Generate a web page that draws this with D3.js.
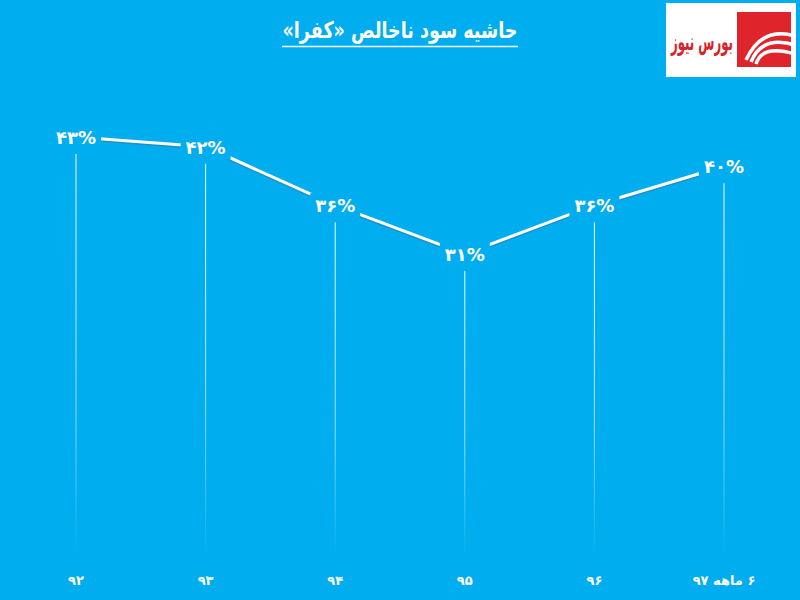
<!DOCTYPE html>
<html><head><meta charset="utf-8">
<script src="https://cdn.jsdelivr.net/npm/d3@7"></script>
<style>html,body{margin:0;padding:0;background:#00aeef;}svg{display:block;}</style>
</head><body>
<script>
const categories = ["۹۲","۹۳","۹۴","۹۵","۹۶","۶ ماهه ۹۷"];
const values = [43,42,36,31,36,40];
const valueLabels = ["۴۳%","۴۲%","۳۶%","۳۱%","۳۶%","۴۰%"];
const title = "حاشیه سود ناخالص «کفرا»";
const logoText = "بورس نیوز";

const W=800,H=600,BG="#00aeef";
const svg=d3.select("body").append("svg").attr("width",W).attr("height",H);
svg.append("rect").attr("width",W).attr("height",H).attr("fill",BG);
const font="'DejaVu Sans', 'Noto Sans', sans-serif";

const x=d3.scalePoint().domain(categories).range([76,724]);
const y=d3.scaleLinear().domain([0,50]).range([556,68.8]);

const defs=svg.append("defs");
const g=defs.append("linearGradient").attr("id","fade").attr("x1",0).attr("y1",0).attr("x2",0).attr("y2",1);
g.append("stop").attr("offset","0%").attr("stop-color","#fff").attr("stop-opacity",0.95);
g.append("stop").attr("offset","60%").attr("stop-color","#fff").attr("stop-opacity",0.6);
g.append("stop").attr("offset","100%").attr("stop-color","#fff").attr("stop-opacity",0);

// drop lines
categories.forEach((c,i)=>{
  const top=y(values[i])+17, bot=y(0);
  svg.append("rect").attr("x",x(c)-0.5).attr("y",top).attr("width",1).attr("height",bot-top)
    .attr("fill","url(#fade)");
});

// line
const line=d3.line().x((d,i)=>x(categories[i])).y(d=>y(d));
svg.append("path").datum(values).attr("d",line).attr("fill","none")
  .attr("stroke","#3a6c9a").attr("stroke-opacity",0.45).attr("stroke-width",3)
  .attr("transform","translate(0,1.5)");
svg.append("path").datum(values).attr("d",line).attr("fill","none")
  .attr("stroke","#fff").attr("stroke-width",3);

// value labels
categories.forEach((c,i)=>{
  const t=svg.append("text").attr("x",x(c)).attr("y",y(values[i])+7)
    .attr("text-anchor","middle").attr("direction","ltr")
    .attr("font-family",font).attr("font-weight","bold").attr("font-size",18)
    .attr("letter-spacing",1)
    .attr("fill","#fff").text(valueLabels[i]);
  const bb=t.node().getBBox();
  svg.insert("rect",function(){return t.node();})
    .attr("x",bb.x-5).attr("y",bb.y-2).attr("width",bb.width+10).attr("height",bb.height+4)
    .attr("fill",BG);
});

// x labels
categories.forEach(c=>{
  svg.append("text").attr("x",x(c)).attr("y",585).attr("text-anchor","middle")
    .attr("font-family",font).attr("font-weight","bold").attr("font-size",13)
    .attr("fill","#fff").attr("direction","rtl").attr("unicode-bidi","embed").text(c);
});

function fitX(sel, cx, width){
  const w=sel.node().getComputedTextLength();
  if(w>0){ const s=width/w; sel.attr("transform",`translate(${cx},0) scale(${s},1) translate(${-cx},0)`); }
}

// title
const tt=svg.append("text").attr("x",400).attr("y",38).attr("text-anchor","middle")
  .attr("font-family",font).attr("font-weight","bold").attr("font-size",23)
  .attr("fill","#fff").attr("direction","rtl").text(title);
fitX(tt,400,235);
svg.append("line").attr("x1",282).attr("x2",518).attr("y1",46.5).attr("y2",46.5)
  .attr("stroke","#fff").attr("stroke-width",1.5);

// logo
const lg=svg.append("g");
lg.append("rect").attr("x",666).attr("y",3).attr("width",130).attr("height",74).attr("fill","#fff");
lg.append("rect").attr("x",737).attr("y",12).attr("width",54).attr("height",55).attr("fill","#e0242b");
[0,1,2].forEach(k=>{
  lg.append("path").attr("d",`M ${795} ${36+k*9} Q ${762} ${26+k*9} ${746+k*5} ${60+k*2}`)
    .attr("fill","none").attr("stroke","#fff").attr("stroke-width",3.5);
});
const lt=lg.append("text").attr("x",702).attr("y",50).attr("text-anchor","middle")
  .attr("font-family",font).attr("font-weight","bold").attr("font-size",24)
  .attr("fill","#d8232a").attr("direction","rtl").text(logoText);
fitX(lt,702,62);
</script>
</body></html>
